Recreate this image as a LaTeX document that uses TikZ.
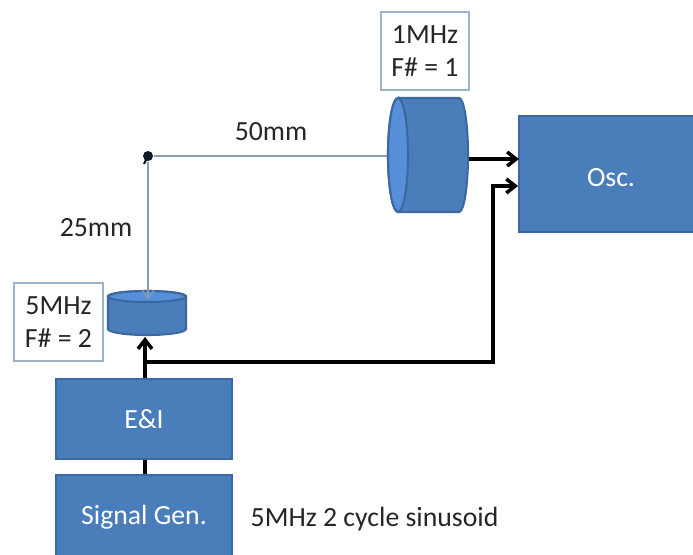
\documentclass[tikz,border=0pt]{standalone}
\usepackage{fontspec}
\setmainfont{Carlito}
\usetikzlibrary{arrows.meta}
\definecolor{boxblue}{HTML}{4A7EBB}
\definecolor{boxedge}{HTML}{3B68A0}
\definecolor{lensface}{HTML}{5590D8}
\definecolor{beamgrey}{HTML}{8A9DB0}
\definecolor{tagedge}{HTML}{9DB2C6}
\definecolor{inktext}{HTML}{262626}
\tikzset{
  blockbox/.style={draw=boxedge,line width=0.5pt,fill=boxblue,text=white,inner sep=0pt,font=\fontsize{7.9}{9}\selectfont},
  lensbody/.style={draw=boxedge,line width=0.6pt,fill=boxblue},
  lensend/.style={draw=boxedge,line width=0.6pt,fill=lensface},
  lensframe/.style={inner sep=0pt},
  tagbox/.style={draw=tagedge,line width=0.4pt,fill=white,text=inktext,align=center,inner sep=0pt,font=\fontsize{7.9}{9.4}\selectfont,execute at begin node={\rule{0pt}{7pt}}},
  plainlabel/.style={text=inktext,inner sep=0pt,font=\fontsize{7.9}{9}\selectfont},
  wire/.style={black,line width=1pt,-{Straight Barb[length=0.9mm,width=1.4mm]}},
  beam/.style={beamgrey,line width=0.35pt}
}
\begin{document}
\begin{tikzpicture}
\useasboundingbox (0,0) rectangle (6.93,5.54);

\node[blockbox,minimum width=1.84cm,minimum height=1.16cm,text height=7pt] (osc) at (6.11,3.80) {Osc.};
\node[blockbox,minimum width=1.76cm,minimum height=0.80cm] (ei) at (1.44,1.35) {E\&I};
\node[blockbox,minimum width=1.76cm,minimum height=0.84cm] (siggen) at (1.44,0.37) {Signal Gen.};

\node[lensframe,minimum width=0.80cm,minimum height=1.14cm] (bigLens) at (4.28,3.99) {};
\draw[lensbody] (3.98,4.56) -- (4.59,4.56) arc (90:-90:0.09 and 0.57) -- (3.98,3.42) arc (270:90:0.10 and 0.57) -- cycle;
\draw[lensend] (3.98,3.99) ellipse (0.10 and 0.57);

\node[lensframe,minimum width=0.78cm,minimum height=0.45cm] (smallLens) at (1.47,2.405) {};
\draw[lensbody] (1.08,2.575) -- (1.08,2.25) arc (180:360:0.39 and 0.06) -- (1.86,2.575) arc (0:180:0.39 and 0.055) -- cycle;
\draw[lensend] (1.47,2.575) ellipse (0.39 and 0.055);

\node[tagbox,minimum width=0.88cm,minimum height=0.78cm] (bigTag) at (4.25,5.03) {1MHz\\F\# = 1};
\node[tagbox,minimum width=0.89cm,minimum height=0.78cm] (smallTag) at (0.585,2.32) {5MHz\\F\# = 2};

\node[circle,fill=black!80!boxblue,inner sep=0pt,minimum size=0.10cm] (mirror) at (1.48,3.98) {};
\coordinate (mirrortail) at (1.44,3.90);
\draw[black!80!boxblue,line width=0.6pt] (mirror.center) -- (mirrortail);

\node[plainlabel] (lblfifty) at (2.71,4.22) {50mm};
\node[plainlabel] (lbltwentyfive) at (0.96,3.26) {25mm};
\node[plainlabel,anchor=west] (lblsignal) at (2.50,0.35) {5MHz 2 cycle sinusoid};

\draw[beam] (bigLens.west |- mirror) -- (mirror);
\draw[beam,-{Straight Barb[length=0.8mm,width=1.2mm]}] (mirror) -- (1.48,2.55);

\coordinate (branch) at (1.45,1.92);
\coordinate (corner) at (4.93,1.92);
\coordinate (bend) at (4.93,3.68);
\draw[wire] (ei.north -| branch) -- (1.45,2.17);
\draw[wire] (branch) -- (corner) -- (bend) -- (bend -| osc.west);
\draw[wire] (bigLens.east |- 0,3.95) -- (5.19,3.95);
\draw[black,line width=1pt] (ei.south -| branch) -- (siggen.north -| branch);
\end{tikzpicture}
\end{document}
